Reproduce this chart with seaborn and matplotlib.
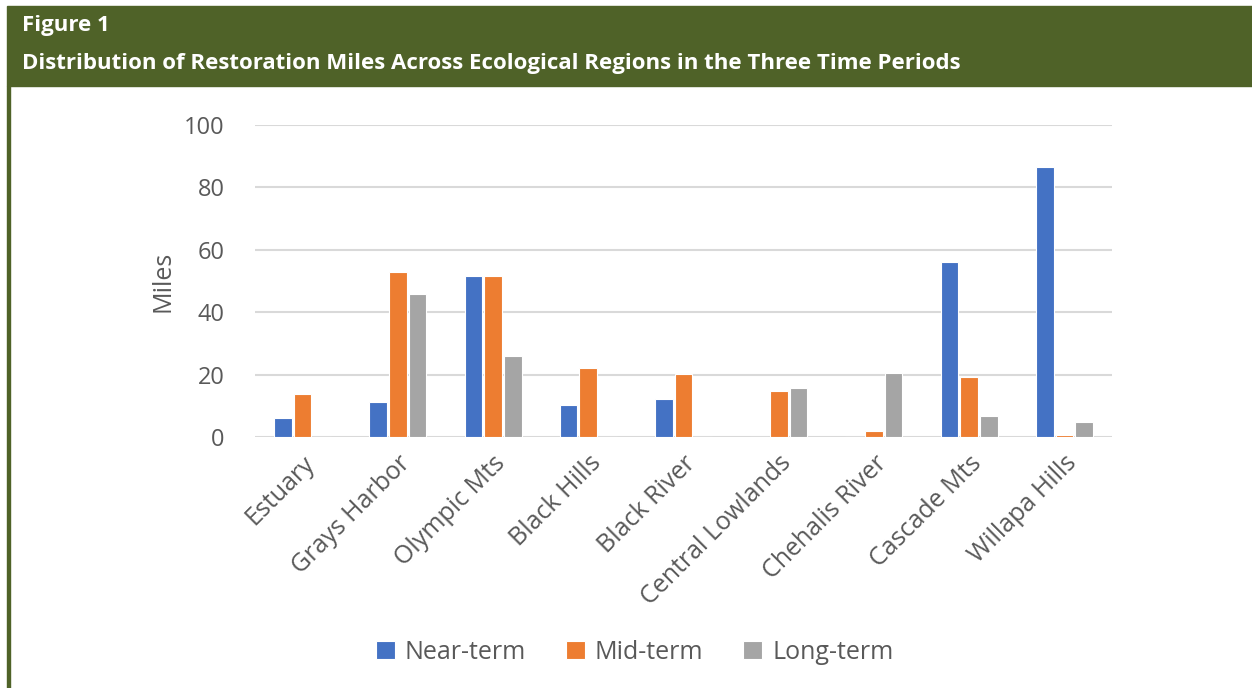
import pandas as pd
import matplotlib
matplotlib.use('Agg')
import matplotlib.pyplot as plt
from matplotlib.patches import Rectangle
import seaborn as sns

regions = ['Estuary', 'Grays Harbor', 'Olympic Mts', 'Black Hills', 'Black River',
           'Central Lowlands', 'Chehalis River', 'Cascade Mts', 'Willapa Hills']
near_term = [6.1, 11.2, 51.6, 10.3, 12.2, 0.0, 0.0, 56.0, 86.5]
mid_term = [13.8, 52.9, 51.6, 22.0, 20.2, 14.7, 1.9, 19.2, 0.7]
long_term = [0.0, 45.8, 26.0, 0.0, 0.0, 15.7, 20.5, 6.7, 4.8]
periods = ['Near-term', 'Mid-term', 'Long-term']
colors = ['#4472C4', '#ED7D31', '#A5A5A5']

df = pd.DataFrame({'Region': regions * 3,
                   'Period': [p for p in periods for _ in regions],
                   'Miles': near_term + mid_term + long_term})

sns.set_style('white')
plt.rcParams['font.family'] = ['Open Sans', 'DejaVu Sans']

fig = plt.figure(figsize=(12.52, 6.88), dpi=100)

# header band and frame
green = '#4F6228'
fig.patches.append(Rectangle((7 / 1252, 1 - 86 / 688), 1 - 7 / 1252, 80 / 688,
                             transform=fig.transFigure, color=green, zorder=0))
fig.patches.append(Rectangle((7 / 1252, 0), 2.5 / 1252, 1 - 86 / 688,
                             transform=fig.transFigure, color=green, zorder=0))
fig.text(22 / 1252, 1 - 26 / 688, 'Figure 1', color='white', fontsize=16,
         fontweight='bold', va='center', ha='left')
fig.text(22 / 1252, 1 - 64 / 688,
         'Distribution of Restoration Miles Across Ecological Regions in the Three Time Periods',
         color='white', fontsize=16, fontweight='bold', va='center', ha='left')

ax = fig.add_axes([255 / 1252, 251 / 688, (1112 - 255) / 1252, (437 - 125) / 688])
sns.barplot(data=df, x='Region', y='Miles', hue='Period', palette=colors,
            saturation=1, width=0.62, gap=0.1, edgecolor='white', linewidth=0.8, ax=ax)

ax.set_ylim(0, 100)
ax.set_yticks(range(0, 101, 20))
ax.yaxis.grid(True, color='#D9D9D9', linewidth=1.5)
ax.set_axisbelow(True)
for s in ax.spines.values():
    s.set_visible(False)
ax.tick_params(axis='both', length=0, colors='#595959')
ax.tick_params(axis='y', pad=22, labelsize=17)
ax.tick_params(axis='x', pad=10, labelsize=18)
ax.set_xlabel('')
ax.set_ylabel('Miles', fontsize=18, color='#595959', labelpad=6)
for lab in ax.get_xticklabels():
    lab.set_rotation(45)
    lab.set_ha('right')
    lab.set_rotation_mode('anchor')

ax.legend(loc='center', bbox_to_anchor=(0.443, -0.69), ncol=3, frameon=False,
          fontsize=18, labelcolor='#595959', handlelength=0.75, handleheight=0.75,
          handletextpad=0.4, columnspacing=1.6)

fig.savefig('out.png', dpi=100)
